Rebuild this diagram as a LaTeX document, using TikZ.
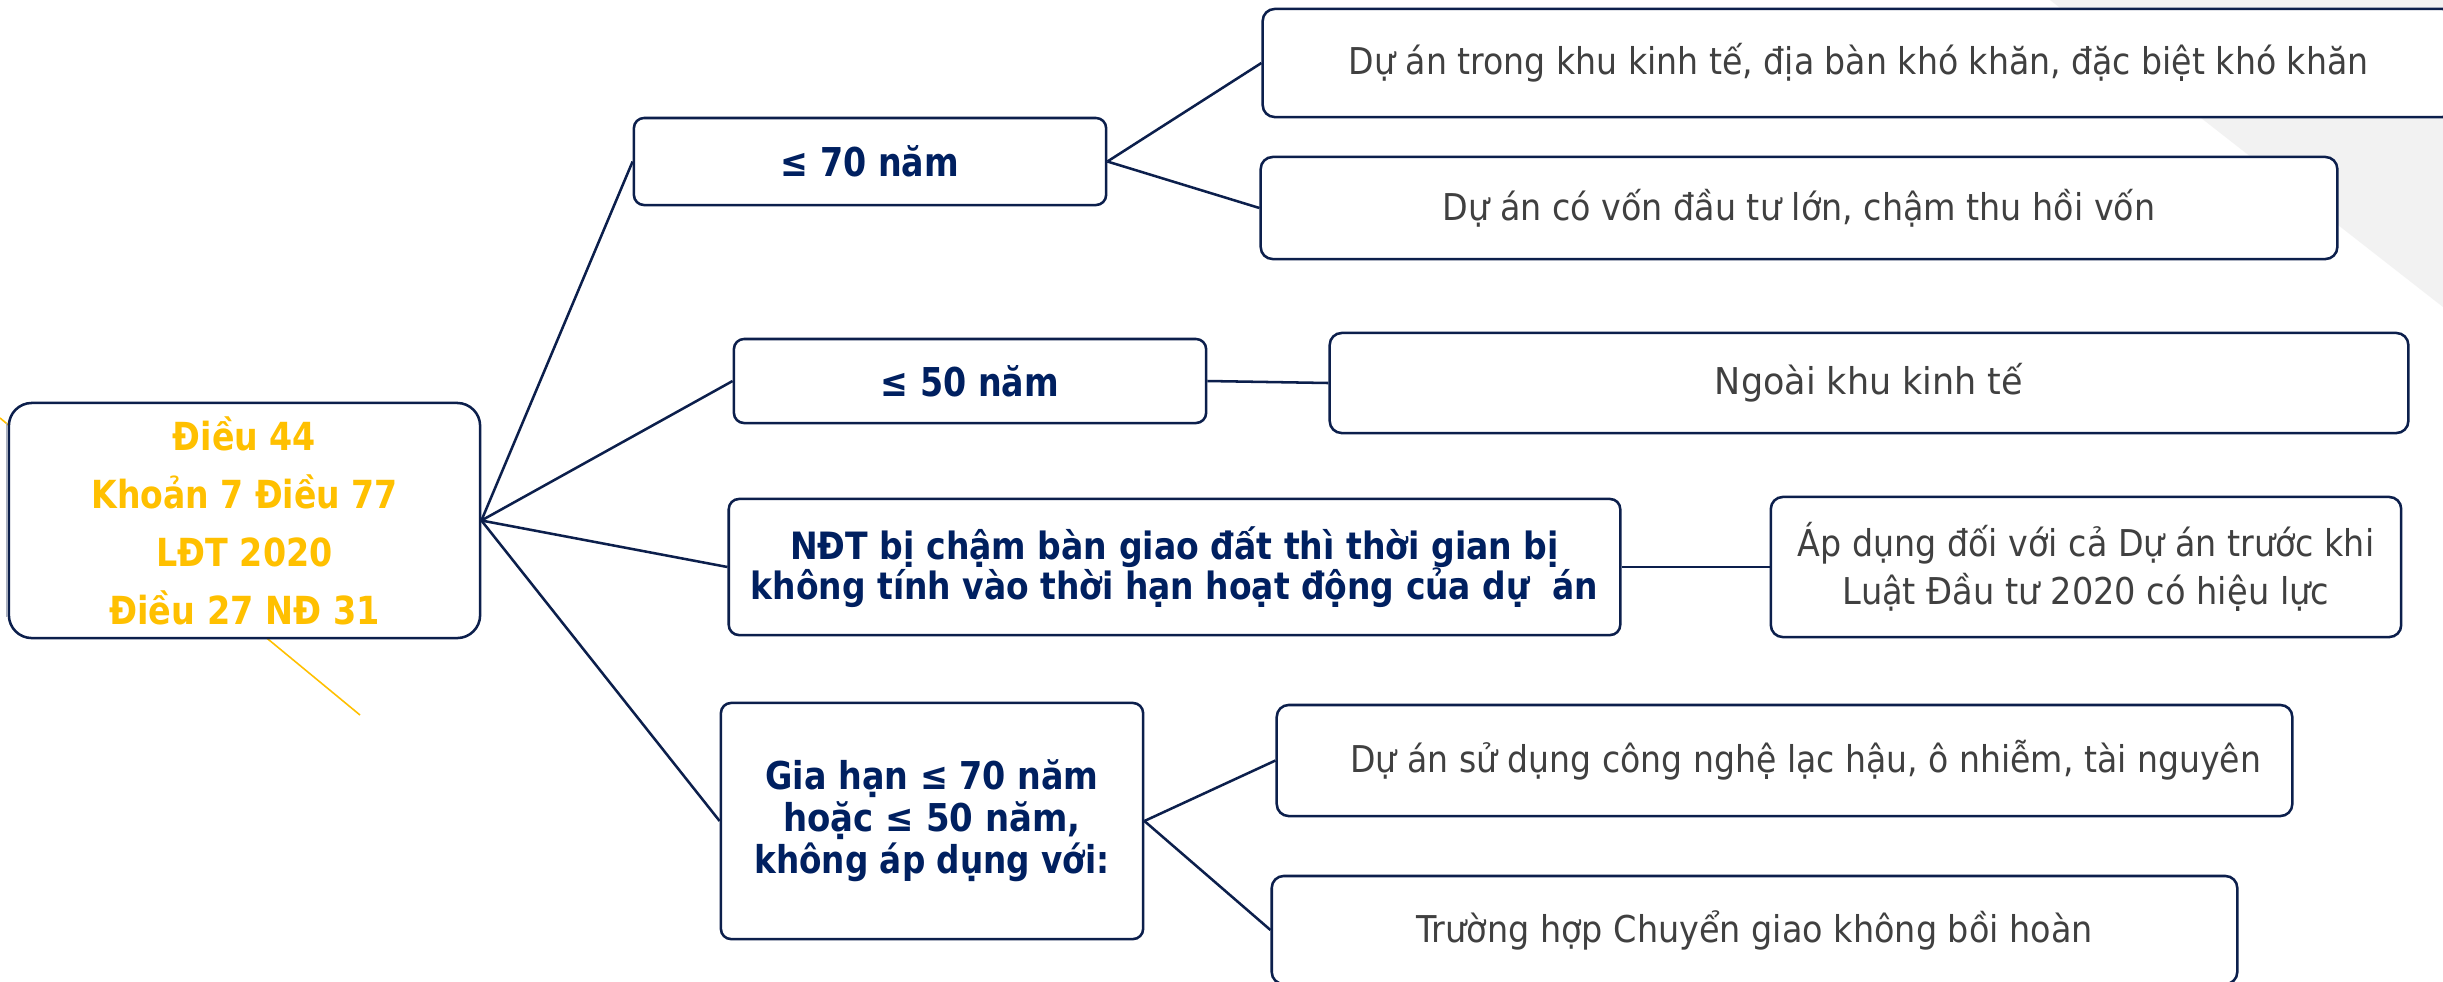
\documentclass[tikz,border=0pt]{standalone}
\usepackage{fontspec}
\setmainfont{DejaVu Sans}
\usepackage{graphicx}

\definecolor{navy}{HTML}{002060}
\definecolor{boxline}{HTML}{0C1F4C}
\definecolor{gold}{HTML}{FFC000}
\definecolor{bodytext}{HTML}{404040}
\definecolor{paleshade}{HTML}{F2F2F2}
\definecolor{edgegray}{HTML}{A9B0C0}

% squeeze a line of text to a given width, keeping its height
\newcommand\fitw[2]{\resizebox{#1}{\height}{#2}}

\begin{document}
\begin{tikzpicture}[x=0.01cm, y=-0.01cm,
  box/.style={draw=boxline, line width=0.72pt, fill=white,
    rounded corners=#1, inner sep=0pt, align=center},
  box/.default=2.9pt,
  headbox/.style={box, text=navy, font=\fontsize{10.7}{11.4}\selectfont\bfseries},
  leafbox/.style={box=3.4pt, text=bodytext, font=\fontsize{10.5}{13.7}\selectfont},
  conn/.style={draw=boxline, line width=0.72pt}]

  \useasboundingbox (0,0) rectangle (2443,981);
  \clip (0,0) rectangle (2443,981);
  \fill[white] (0,0) rectangle (2443,981);

  % pale corner panel and thin accents behind the boxes
  \fill[paleshade] (2050,0) -- (2443,0) -- (2443,307) -- cycle;
  \draw[gold, line width=0.45pt] (0,418) -- (360,715);
  \draw[edgegray, line width=0.35pt] (6.5,423) -- (6.5,617);

  % root
  \node[box=0.23cm, minimum width=4.71cm, minimum height=2.35cm, text=gold,
        font=\fontsize{11}{16.5}\selectfont\bfseries] (root) at (244.5,520.5)
    {\fitw{1.43cm}{Điều 44}\\ \fitw{3.06cm}{Khoản 7 Điều 77}\\
     \fitw{1.76cm}{LĐT 2020}\\ \fitw{2.70cm}{Điều 27 NĐ 31}};

  % second level
  \node[headbox, font=\fontsize{11.3}{12}\selectfont\bfseries,
        minimum width=4.72cm, minimum height=0.87cm] (b70) at (870,161.5)
    {\fitw{1.78cm}{≤ 70 năm}};
  \node[headbox, font=\fontsize{11.3}{12}\selectfont\bfseries,
        minimum width=4.72cm, minimum height=0.84cm] (b50) at (970,381)
    {\fitw{1.78cm}{≤ 50 năm}};
  \node[headbox=3.4pt, minimum width=8.91cm, minimum height=1.36cm] (ndt) at (1174.5,567)
    {\fitw{7.68cm}{NĐT bị chậm bàn giao đất thì thời gian bị}\\
     \fitw{8.47cm}{không tính vào thời hạn hoạt động của dự\ \ án}};
  \node[headbox=0.25cm, font=\fontsize{10.9}{11.95}\selectfont\bfseries,
        minimum width=4.22cm, minimum height=2.36cm] (gh) at (932,821)
    {\fitw{3.33cm}{Gia hạn ≤ 70 năm}\\ \fitw{2.97cm}{hoặc ≤ 50 năm,}\\
     \fitw{3.55cm}{không áp dụng với:}};

  % leaves
  \node[leafbox, minimum width=11.91cm, minimum height=1.08cm] (a1) at (1858.5,63)
    {\fitw{10.19cm}{Dự án trong khu kinh tế, địa bàn khó khăn, đặc biệt khó khăn}};
  \node[leafbox, minimum width=10.76cm, minimum height=1.02cm] (a2) at (1799,208)
    {\fitw{7.12cm}{Dự án có vốn đầu tư lớn, chậm thu hồi vốn}};
  \node[leafbox, minimum width=10.78cm, minimum height=1.00cm] (c) at (1869,383)
    {\fitw{3.08cm}{Ngoài khu kinh tế}};
  \node[leafbox, minimum width=6.30cm, minimum height=1.40cm] (d) at (2086,567)
    {\fitw{5.76cm}{Áp dụng đối với cả Dự án trước khi}\\
     \fitw{4.86cm}{Luật Đầu tư 2020 có hiệu lực}};
  \node[leafbox, minimum width=10.15cm, minimum height=1.11cm] (e1) at (1784.5,760.5)
    {\hspace*{0.42cm}\fitw{9.10cm}{Dự án sử dụng công nghệ lạc hậu, ô nhiễm, tài nguyên}};
  \node[leafbox, minimum width=9.65cm, minimum height=1.08cm] (e2) at (1754.5,930)
    {\fitw{6.76cm}{Trường hợp Chuyển giao không bồi hoàn}};

  % connectors
  \draw[conn] (root.east) -- (b70.west);
  \draw[conn] (root.east) -- (b50.west);
  \draw[conn] (root.east) -- (ndt.west);
  \draw[conn] (root.east) -- (gh.west);
  \draw[conn] (b70.east) -- (a1.west);
  \draw[conn] (b70.east) -- (a2.west);
  \draw[conn] (b50.east) -- (c.west);
  \draw[conn] (ndt.east) -- (d.west);
  \draw[conn] (gh.east) -- (e1.west);
  \draw[conn] (gh.east) -- (e2.west);
\end{tikzpicture}
\end{document}
